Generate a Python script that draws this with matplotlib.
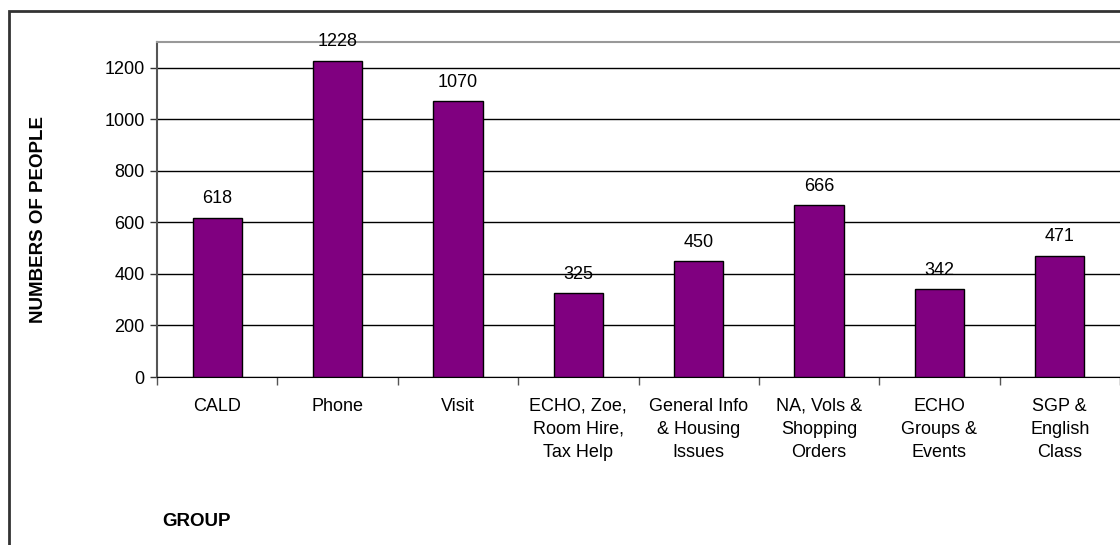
import matplotlib.pyplot as plt
from matplotlib.patches import Rectangle

plt.rcParams['font.family'] = ['Liberation Sans', 'DejaVu Sans']

groups = ["CALD", "Phone", "Visit", "ECHO, Zoe,\nRoom Hire,\nTax Help",
          "General Info\n& Housing\nIssues", "NA, Vols &\nShopping\nOrders",
          "ECHO\nGroups &\nEvents", "SGP &\nEnglish\nClass"]
people = [618, 1228, 1070, 325, 450, 666, 342, 471]
yticks = [0, 200, 400, 600, 800, 1000, 1200]

fig = plt.figure(figsize=(11.2, 5.45), dpi=100)
ax = fig.add_axes([157 / 1120, 1 - 377 / 545, 963 / 1120, 335 / 545])

# outer chart frame (runs off the right and bottom edges)
fig.patches.append(Rectangle((9 / 1120, -0.1), 1.2, 1.1 - 11 / 545,
                             transform=fig.transFigure, fill=False,
                             edgecolor='#333333', linewidth=2, clip_on=False))

x = range(len(groups))
ax.bar(x, people, width=0.41, color='#800080', edgecolor='black',
       linewidth=1, zorder=3)
for xi, v in zip(x, people):
    ax.text(xi, v + 40, str(v), ha='center', va='bottom', fontsize=13)

ax.set_xlim(-0.5, len(groups) - 0.5)
ax.set_ylim(0, 1300)
ax.set_yticks(yticks)
ax.tick_params(axis='y', labelsize=13, length=5, width=1, color='#333333', pad=4)
ax.set_xticks(x)
ax.set_xticklabels(groups, fontsize=13, linespacing=1.45)
ax.tick_params(axis='x', length=0, pad=15)
ax.set_xticks([i - 0.5 for i in range(len(groups) + 1)], minor=True)
ax.tick_params(axis='x', which='minor', length=6, width=1, color='#555555')

ax.grid(axis='y', color='black', linewidth=1, zorder=0)
ax.spines['top'].set_color('#999999')
ax.spines['top'].set_linewidth(1.5)
ax.spines['right'].set_visible(False)
ax.spines['left'].set_color('#555555')
ax.spines['left'].set_linewidth(1.5)
ax.spines['bottom'].set_color('black')

fig.text(39 / 1120, 1 - 219 / 545, "NUMBERS OF PEOPLE", rotation=90,
         ha='center', va='center', fontsize=13.5, fontweight='bold')
fig.text(162 / 1120, 1 - 522 / 545, "GROUP", ha='left', va='center',
         fontsize=13.5, fontweight='bold')

fig.savefig('out.png', dpi=100)
